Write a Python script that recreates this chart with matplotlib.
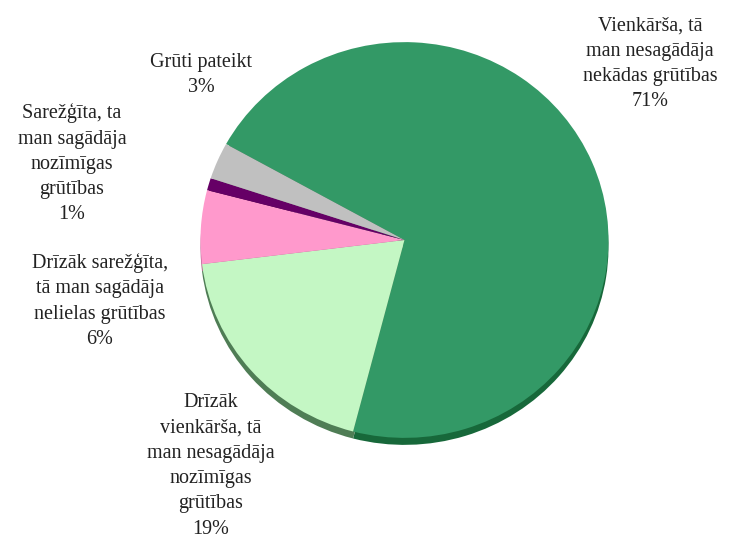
import matplotlib
matplotlib.use("Agg")
import matplotlib.pyplot as plt

# Survey answers and their shares (%)
labels = [
    "Vienkārša, tā\nman nesagādāja\nnekādas grūtības",
    "Drīzāk\nvienkārša, tā\nman nesagādāja\nnozīmīgas\ngrūtības",
    "Drīzāk sarežģīta,\ntā man sagādāja\nnelielas grūtības",
    "Sarežģīta, ta\nman sagādāja\nnozīmīgas\ngrūtības",
    "Grūti pateikt",
]
shares = [71, 19, 6, 1, 3]
top_colors = ["#339966", "#c4f7c4", "#ff99cc", "#660066", "#c0c0c0"]
side_colors = ["#17683a", "#4f7d55", "#b3608c", "#3a003a", "#808080"]

W, H = 733, 544
YS = 0.97  # vertical squash for the tilted look

fig = plt.figure(figsize=(W / 100, H / 100), dpi=100)
ax = fig.add_axes([0, 0, 1, 1])

cx, cy_px, r = 404.5, 240, 204
cy = (H - cy_px) / YS
depth = 7 / YS

# side of the disc, then the top surface
ax.pie(shares, colors=side_colors, startangle=151, counterclock=False,
       center=(cx, cy - depth), radius=r, wedgeprops=dict(linewidth=0))
ax.pie(shares, colors=top_colors, startangle=151, counterclock=False,
       center=(cx, cy), radius=r, wedgeprops=dict(linewidth=0))

ax.set_aspect("auto")
ax.set_xlim(0, W)
ax.set_ylim(0, H / YS)
ax.axis("off")

font = dict(family="Liberation Serif", fontsize=14.5, color="#222222",
            ha="center", va="center", linespacing=1.45)

label_pos = [(650, 64), (211, 466), (100, 301), (72, 164), (201, 75)]
for lab, val, (px, py) in zip(labels, shares, label_pos):
    ax.text(px, (H - py) / YS, f"{lab}\n{val}%", **font)

fig.savefig("out.png", dpi=100)
